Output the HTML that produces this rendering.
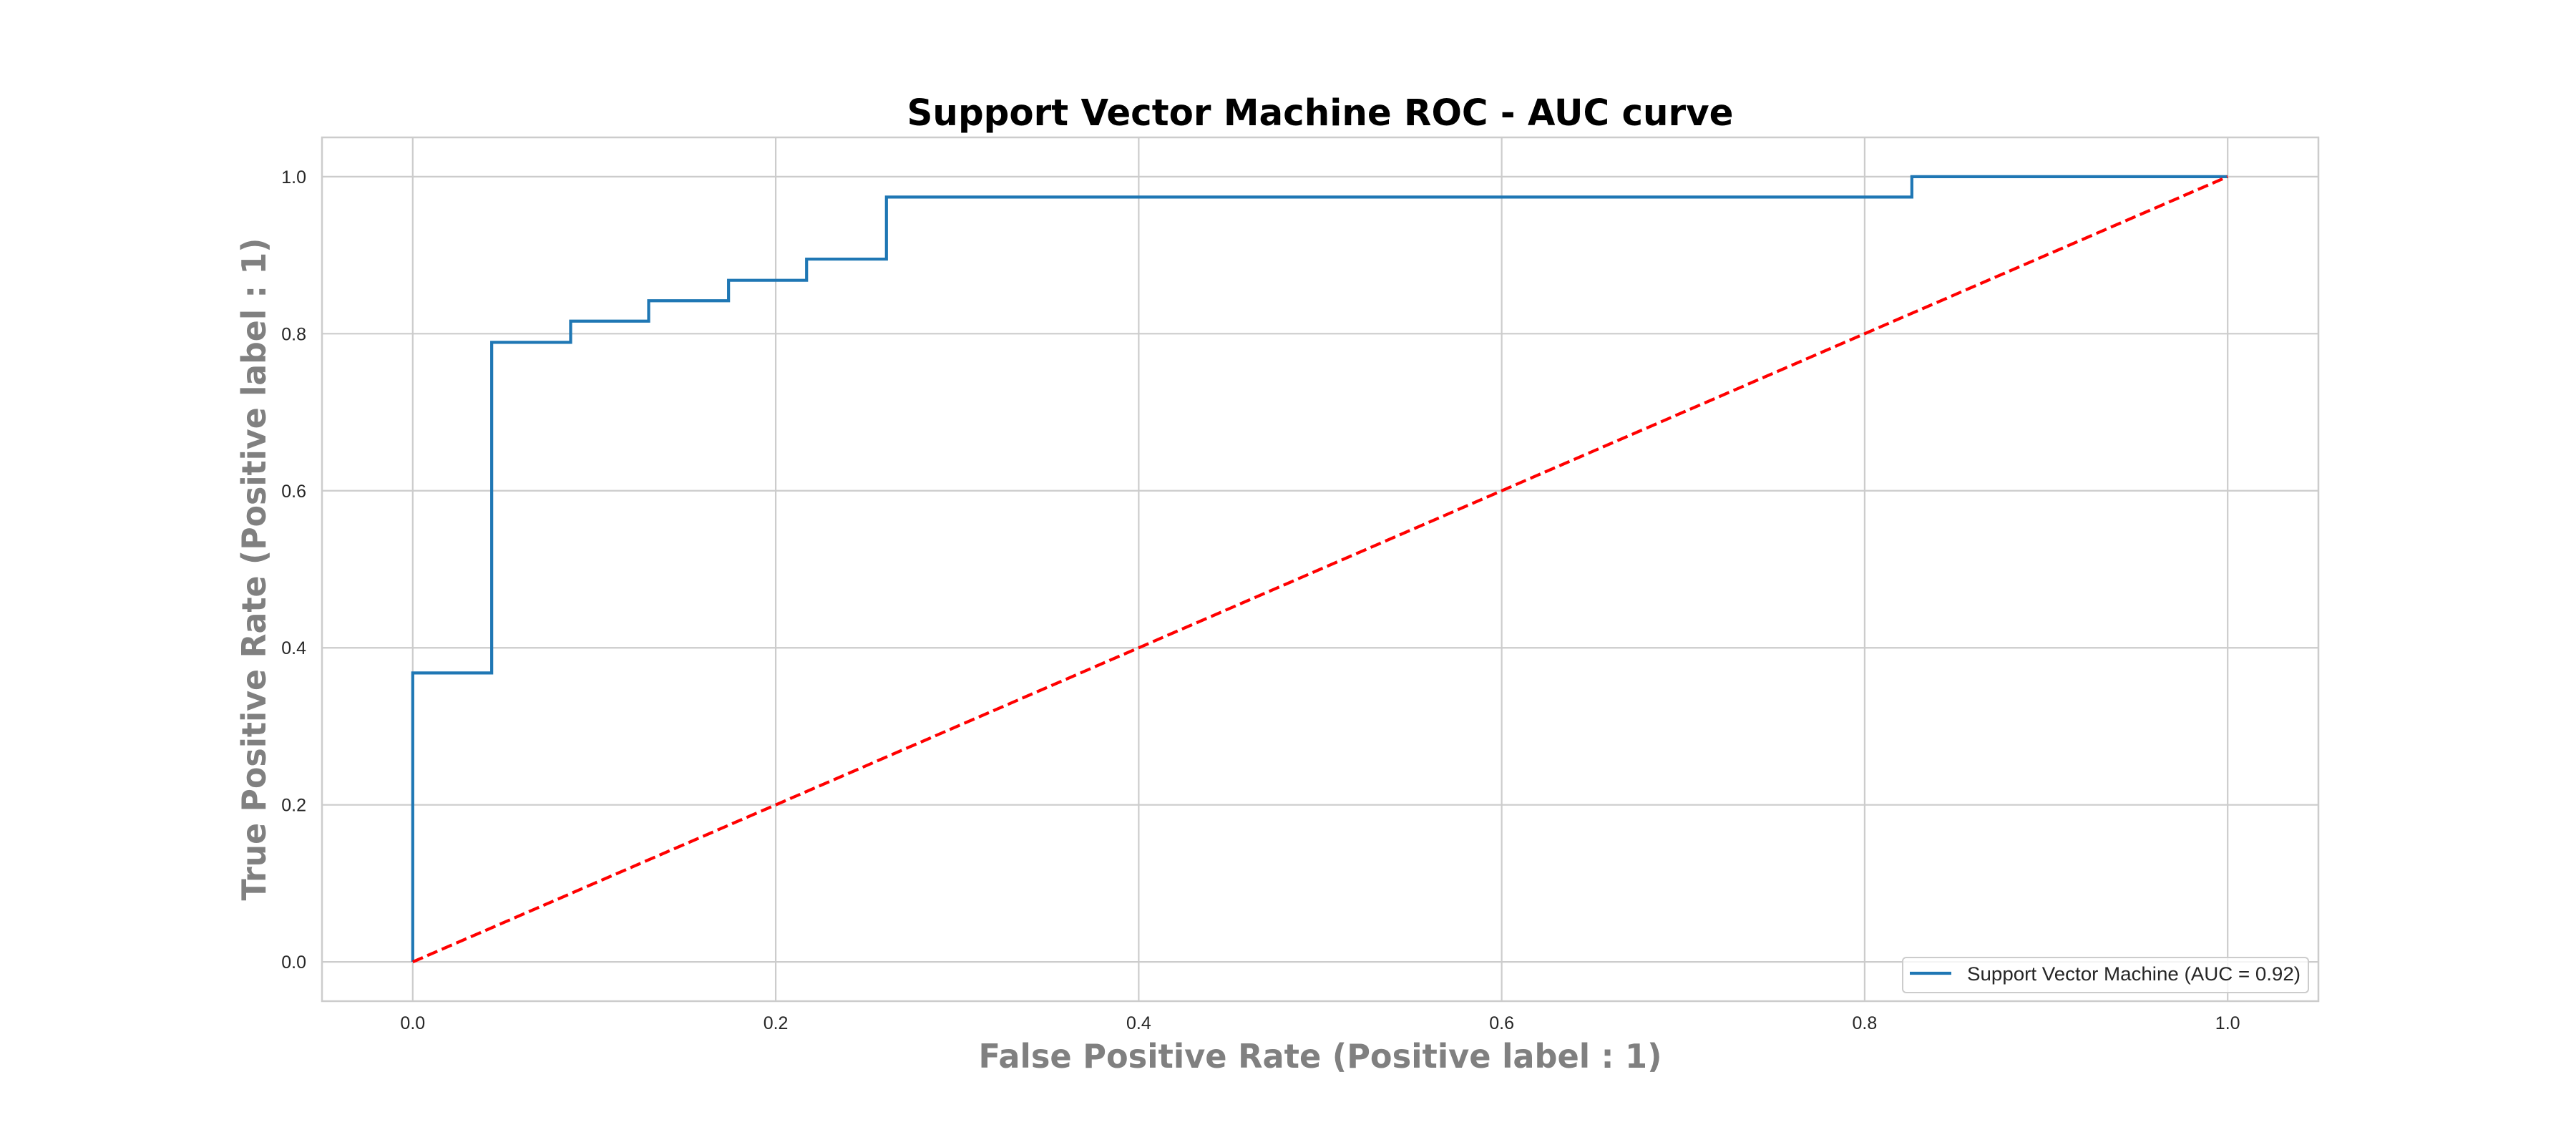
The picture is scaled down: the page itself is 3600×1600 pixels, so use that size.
<!DOCTYPE html>
<html><head><meta charset="utf-8"><style>html,body{margin:0;padding:0;background:#fff}svg{display:block}</style></head>
<body>
<svg id="chart" width="3600" height="1600" viewBox="0 0 3600 1600" xmlns="http://www.w3.org/2000/svg">
<rect width="3600" height="1600" fill="#fff"/>
<g id="grid"></g>
<rect x="450" y="192" width="2790" height="1207" fill="none" stroke="#cccccc" stroke-width="2.5"/>
<g id="ticks"></g>
<g id="series"></g>
<text x="1845" y="175" text-anchor="middle" font-family="DejaVu Sans, Verdana, sans-serif" font-weight="bold" font-size="51" textLength="1155" lengthAdjust="spacingAndGlyphs" fill="#000">Support Vector Machine ROC - AUC curve</text>
<text x="1845" y="1492" text-anchor="middle" font-family="DejaVu Sans, Verdana, sans-serif" font-weight="bold" font-size="46" textLength="955" lengthAdjust="spacingAndGlyphs" fill="#808080">False Positive Rate (Positive label : 1)</text>
<text transform="translate(371,795.5) rotate(-90)" x="0" y="0" text-anchor="middle" font-family="DejaVu Sans, Verdana, sans-serif" font-weight="bold" font-size="46" textLength="926" lengthAdjust="spacingAndGlyphs" fill="#808080">True Positive Rate (Positive label : 1)</text>
<g>
<rect x="2659" y="1338" width="567" height="49" rx="5" fill="#fff" fill-opacity="0.8" stroke="#cccccc" stroke-width="2"/>
<line x1="2669" y1="1360" x2="2727" y2="1360" stroke="#1f77b4" stroke-width="4.2"/>
<text x="2749" y="1370" font-family="Liberation Sans, Arial, sans-serif" font-size="27" textLength="466" lengthAdjust="spacingAndGlyphs" fill="#262626">Support Vector Machine (AUC = 0.92)</text>
</g>
</svg>
<script>
const fprValues = [0, 0, 0.0435, 0.0435, 0.087, 0.087, 0.13, 0.13, 0.174, 0.174, 0.217, 0.217, 0.261, 0.261, 0.826, 0.826, 1];
const tprValues = [0, 0.368, 0.368, 0.789, 0.789, 0.816, 0.816, 0.842, 0.842, 0.868, 0.868, 0.895, 0.895, 0.974, 0.974, 1, 1];
const chanceX = [0, 1];
const chanceY = [0, 1];
const xTicks = [0, 0.2, 0.4, 0.6, 0.8, 1.0];
const yTicks = [0, 0.2, 0.4, 0.6, 0.8, 1.0];
const xTickLabels = ["0.0", "0.2", "0.4", "0.6", "0.8", "1.0"];
const yTickLabels = ["0.0", "0.2", "0.4", "0.6", "0.8", "1.0"];

const NS = "http://www.w3.org/2000/svg";
const L = 450, R = 3240, T = 192, B = 1399;
const xMin = -0.05, xMax = 1.05, yMin = -0.05, yMax = 1.05;
function sx(v){ return L + (v - xMin) / (xMax - xMin) * (R - L); }
function sy(v){ return B - (v - yMin) / (yMax - yMin) * (B - T); }
function mk(tag, attrs){ const e = document.createElementNS(NS, tag); for (const k in attrs) e.setAttribute(k, attrs[k]); return e; }

const grid = document.getElementById('grid');
const ticks = document.getElementById('ticks');
xTicks.forEach((v, i) => {
  const g = mk('line', {x1: sx(v), x2: sx(v), y1: T, y2: B, stroke: '#cccccc', 'stroke-width': 2.2});
  
  
  grid.appendChild(g);
  const t = mk('text', {x: sx(v), y: 1438, 'text-anchor': 'middle', 'font-family': 'Liberation Sans, Arial, sans-serif', 'font-size': 25, fill: '#262626'});
  t.textContent = xTickLabels[i];
  
  
  ticks.appendChild(t);
});
yTicks.forEach((v, i) => {
  const g = mk('line', {x1: L, x2: R, y1: sy(v), y2: sy(v), stroke: '#cccccc', 'stroke-width': 2.2});
  
  
  grid.appendChild(g);
  const t = mk('text', {x: 428, y: sy(v) + 9, 'text-anchor': 'end', 'font-family': 'Liberation Sans, Arial, sans-serif', 'font-size': 25, fill: '#262626'});
  t.textContent = yTickLabels[i];
  
  
  ticks.appendChild(t);
});

const series = document.getElementById('series');
const roc = mk('polyline', {points: fprValues.map((x, i) => sx(x) + ',' + sy(tprValues[i])).join(' '), fill: 'none', stroke: '#1f77b4', 'stroke-width': 4.2, 'stroke-linejoin': 'miter'});


series.appendChild(roc);
const chance = mk('polyline', {points: chanceX.map((x, i) => sx(x) + ',' + sy(chanceY[i])).join(' '), fill: 'none', stroke: '#ff0000', 'stroke-width': 4.2, 'stroke-dasharray': '15.4 6.7'});


series.appendChild(chance);
</script>
</body></html>
